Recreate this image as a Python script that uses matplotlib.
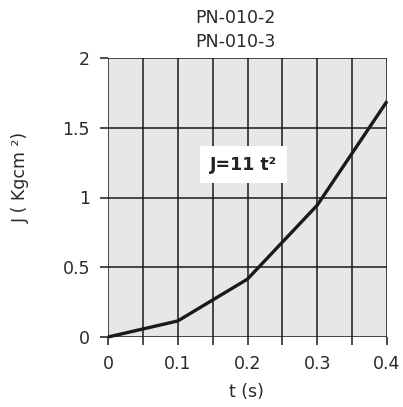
import matplotlib
matplotlib.use("Agg")
import matplotlib.pyplot as plt
import numpy as np

t_values = [0.0, 0.1, 0.2, 0.3, 0.4]
j_values = [0.0, 0.115, 0.415, 0.945, 1.69]
x_tick_labels = ["0", "", "0.1", "", "0.2", "", "0.3", "", "0.4"]
y_ticks = [0, 0.5, 1, 1.5, 2]
y_tick_labels = ["0", "0.5", "1", "1.5", "2"]
title_lines = ["PN-010-2", "PN-010-3"]

plt.rcParams['font.family'] = ['DejaVu Sans']

fig = plt.figure(figsize=(4.03, 4.07), dpi=100)
ax = fig.add_axes([108/403, 70/407, 279/403, 279/407])
ax.set_facecolor('#e6e7e8')

ax.set_xlim(0, 0.4)
ax.set_ylim(0, 2)
grid_c = '#1a1a1a'
for xv in np.arange(0, 0.4001, 0.05):
    ax.axvline(xv, color=grid_c, lw=1.1, zorder=1)
for yv in y_ticks:
    ax.axhline(yv, color=grid_c, lw=1.1, zorder=1)
for s in ax.spines.values():
    s.set_visible(False)

ax.set_xticks(np.arange(0, 0.4001, 0.05))
ax.set_xticklabels(x_tick_labels)
ax.set_yticks(y_ticks)
ax.set_yticklabels(y_tick_labels)
ax.tick_params(axis='both', length=6, width=1.1, color=grid_c, labelsize=12.5,
               labelcolor='#2a2a2a', pad=7)

ax.plot(t_values, j_values, color='#1a1a1a', lw=2.4, zorder=3, clip_on=False,
        solid_capstyle='butt')

ax.text(0.194, 1.235, "J=11 t²", fontsize=12.5, fontweight='bold', ha='center',
        va='center', color='#222222', zorder=4,
        bbox=dict(facecolor='white', edgecolor='none', pad=7))

fig.text(235/403, 1 - 18/407, title_lines[0], ha='center', va='center', fontsize=12.5, color='#2a2a2a')
fig.text(235/403, 1 - 42/407, title_lines[1], ha='center', va='center', fontsize=12.5, color='#2a2a2a')
fig.text(246/403, 1 - 392/407, "t (s)", ha='center', va='center', fontsize=12.5, color='#2a2a2a')
fig.text(21/403, 1 - 177/407, "J ( Kgcm ²)", ha='center', va='center', rotation=90,
         fontsize=12.5, color='#2a2a2a')

fig.savefig("out.png", dpi=100, facecolor='white')
